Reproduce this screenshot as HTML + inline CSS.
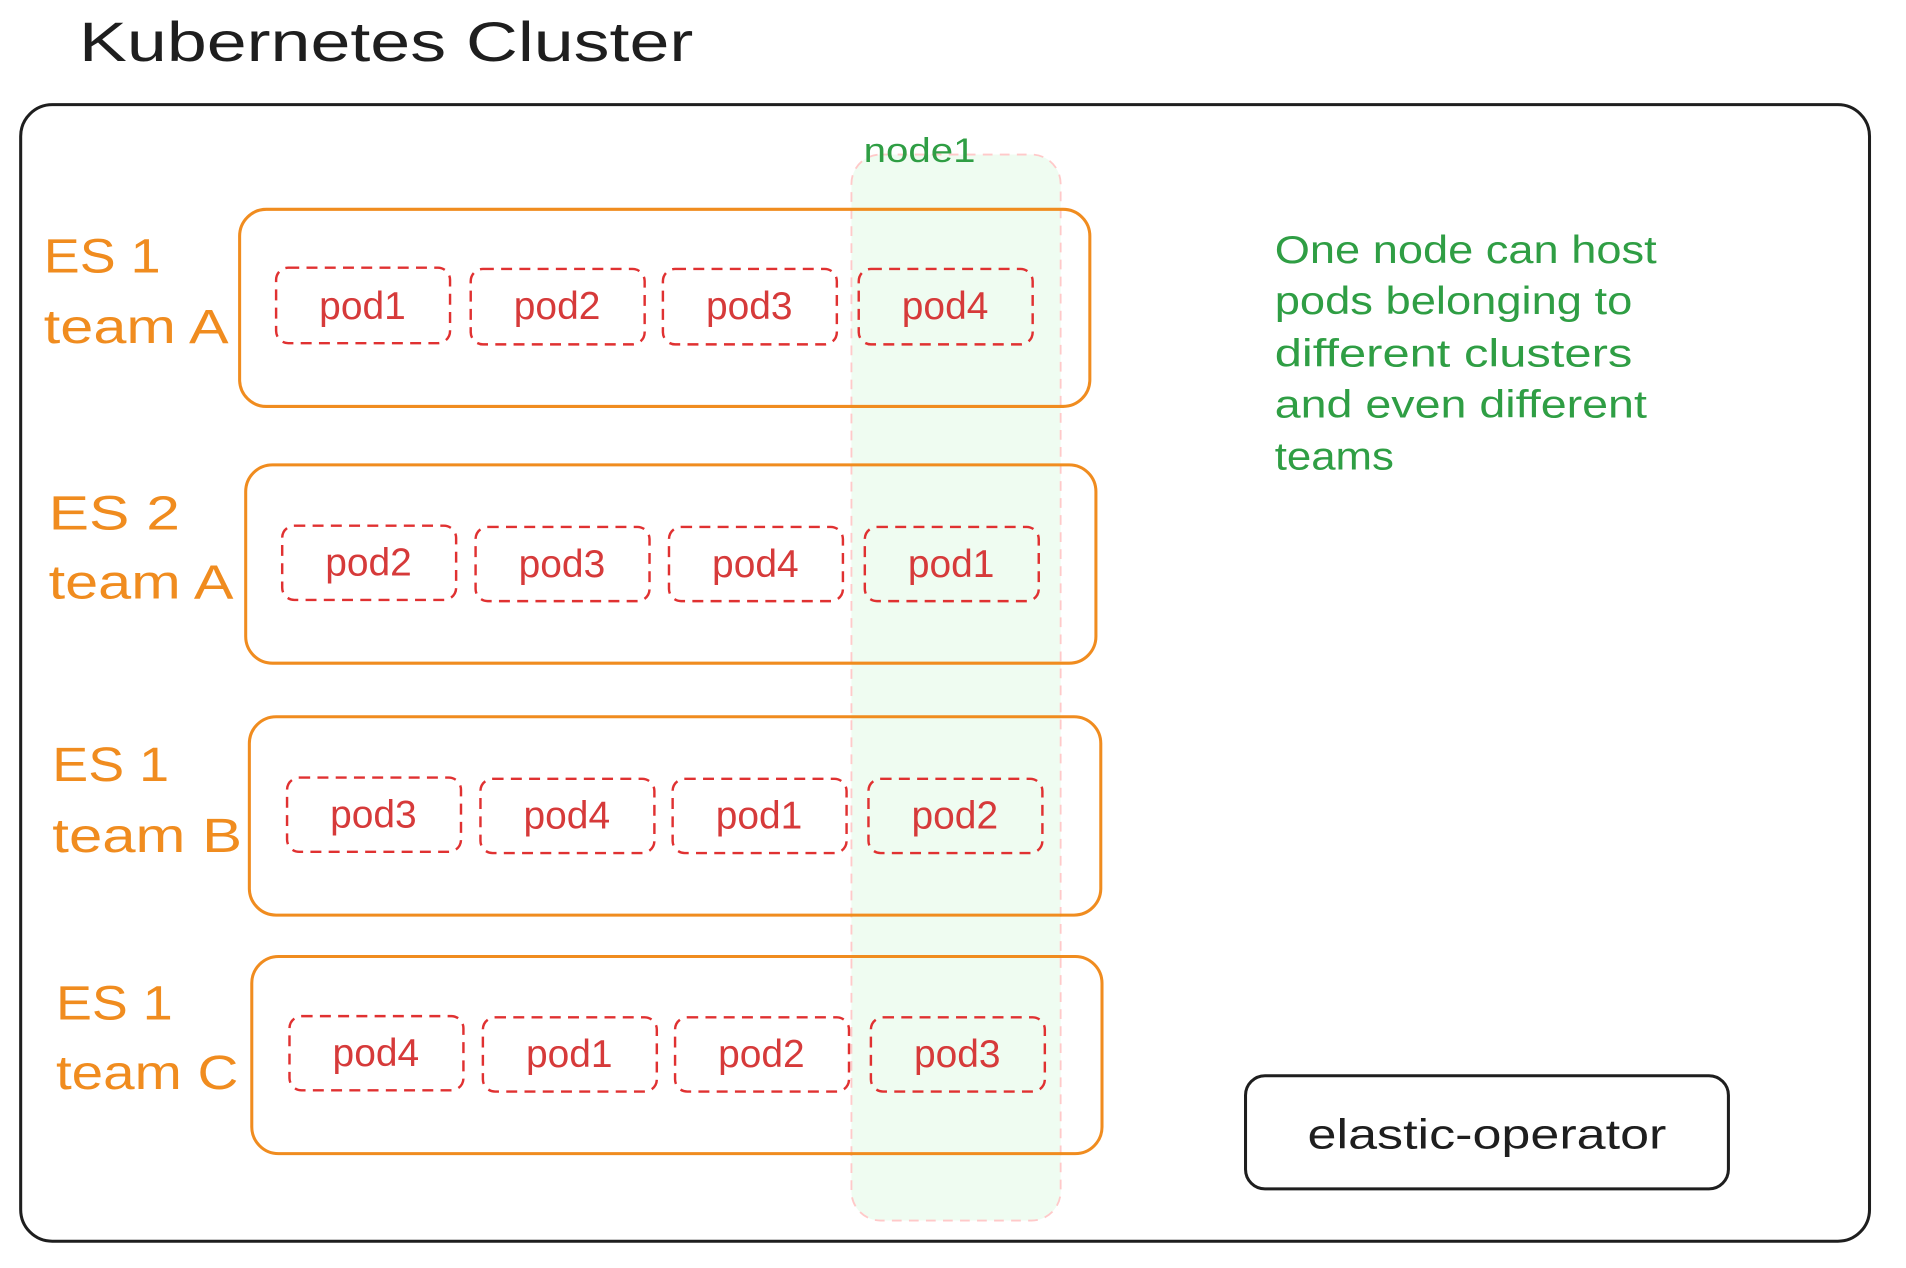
<!DOCTYPE html>
<html><head><meta charset="utf-8"><style>
html,body{margin:0;padding:0;background:#fff;}
svg{display:block;}
text{font-family:"Liberation Sans",sans-serif;}
</style></head><body>
<svg width="1906" height="1268" viewBox="0 0 1567 1042" preserveAspectRatio="none" xmlns="http://www.w3.org/2000/svg">
<text x="65" y="50" font-size="46" fill="#1e1e1e" textLength="505" lengthAdjust="spacingAndGlyphs">Kubernetes Cluster</text>
<rect x="17" y="86" width="1520" height="934" rx="26" fill="none" stroke="#1e1e1e" stroke-width="2.5"/>
<rect x="700" y="127" width="172" height="876" rx="24" fill="#ebfbee" fill-opacity="0.8" stroke="#ffc9c9" stroke-width="1.5" stroke-dasharray="8 6"/>
<text x="710" y="133" font-size="28" fill="#2f9e44" textLength="92" lengthAdjust="spacingAndGlyphs">node1</text>
<g fill="none" stroke="#f08c1f" stroke-width="2.5">
<rect x="197" y="172" width="699" height="162" rx="22"/>
<rect x="202" y="382" width="699" height="163" rx="22"/>
<rect x="205" y="589" width="700" height="163" rx="22"/>
<rect x="207" y="786" width="699" height="162" rx="22"/>
</g>
<g fill="#f08c1f" font-size="40">
<text x="36" y="224" textLength="96" lengthAdjust="spacingAndGlyphs">ES 1</text>
<text x="36" y="282" textLength="152" lengthAdjust="spacingAndGlyphs">team A</text>
<text x="40" y="435" textLength="108" lengthAdjust="spacingAndGlyphs">ES 2</text>
<text x="40" y="492" textLength="152" lengthAdjust="spacingAndGlyphs">team A</text>
<text x="43" y="642" textLength="96" lengthAdjust="spacingAndGlyphs">ES 1</text>
<text x="43" y="700" textLength="156" lengthAdjust="spacingAndGlyphs">team B</text>
<text x="46" y="838" textLength="96" lengthAdjust="spacingAndGlyphs">ES 1</text>
<text x="46" y="895" textLength="150" lengthAdjust="spacingAndGlyphs">team C</text>
</g>
<g fill="none" stroke="#e03131" stroke-width="2" stroke-dasharray="9 6">
<rect x="227" y="220" width="143" height="62" rx="10"/><rect x="387" y="221" width="143" height="62" rx="10"/><rect x="545" y="221" width="143" height="62" rx="10"/><rect x="706" y="221" width="143" height="62" rx="10"/>
<rect x="232" y="432" width="143" height="61" rx="10"/><rect x="391" y="433" width="143" height="61" rx="10"/><rect x="550" y="433" width="143" height="61" rx="10"/><rect x="711" y="433" width="143" height="61" rx="10"/>
<rect x="236" y="639" width="143" height="61" rx="10"/><rect x="395" y="640" width="143" height="61" rx="10"/><rect x="553" y="640" width="143" height="61" rx="10"/><rect x="714" y="640" width="143" height="61" rx="10"/>
<rect x="238" y="835" width="143" height="61" rx="10"/><rect x="397" y="836" width="143" height="61" rx="10"/><rect x="555" y="836" width="143" height="61" rx="10"/><rect x="716" y="836" width="143" height="61" rx="10"/>
</g>
<g fill="#d63a3a" font-size="32" text-anchor="middle">
<text x="298" y="262">pod1</text><text x="458" y="262">pod2</text><text x="616" y="262">pod3</text><text x="777" y="262">pod4</text>
<text x="303" y="473">pod2</text><text x="462" y="474">pod3</text><text x="621" y="474">pod4</text><text x="782" y="474">pod1</text>
<text x="307" y="680">pod3</text><text x="466" y="681">pod4</text><text x="624" y="681">pod1</text><text x="785" y="681">pod2</text>
<text x="309" y="876">pod4</text><text x="468" y="877">pod1</text><text x="626" y="877">pod2</text><text x="787" y="877">pod3</text>
</g>
<g fill="#2f9e44" font-size="32">
<text x="1048" y="216" textLength="314" lengthAdjust="spacingAndGlyphs">One node can host</text>
<text x="1048" y="258" textLength="294" lengthAdjust="spacingAndGlyphs">pods belonging to</text>
<text x="1048" y="301" textLength="294" lengthAdjust="spacingAndGlyphs">different clusters</text>
<text x="1048" y="343" textLength="306" lengthAdjust="spacingAndGlyphs">and even different</text>
<text x="1048" y="386" textLength="98" lengthAdjust="spacingAndGlyphs">teams</text>
</g>
<rect x="1024" y="884" width="397" height="93" rx="16" fill="none" stroke="#1e1e1e" stroke-width="2.5"/>
<text x="1075" y="944" font-size="34" fill="#1e1e1e" textLength="295" lengthAdjust="spacingAndGlyphs">elastic-operator</text>
</svg>
</body></html>
